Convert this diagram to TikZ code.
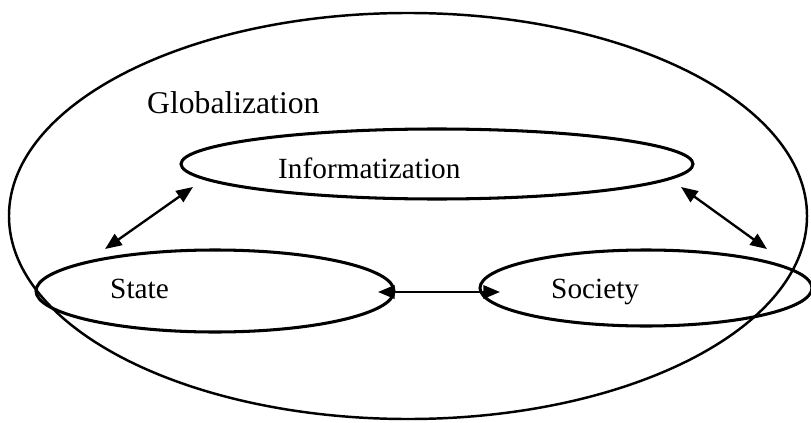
\documentclass[tikz,border=0pt]{standalone}
\usepackage{fontspec}
\setmainfont{Liberation Serif}
\usetikzlibrary{arrows.meta,shapes.geometric}

\begin{document}
\begin{tikzpicture}[x=0.03cm,y=-0.03cm,
  oval/.style={draw,ellipse,line width=2.6pt,inner sep=0,outer sep=0},
  word/.style={inner sep=0,anchor=base west,font=\fontsize{25}{30}\selectfont},
  link/.style={{Triangle[length=5mm,width=4mm]}-{Triangle[length=5mm,width=4mm]},line width=2pt}]
\fill[white] (0,0) rectangle (811,423);
\useasboundingbox (0,0) rectangle (811,423);
% the world round everything
\node[oval,line width=2.1pt,minimum width=23.94cm,minimum height=12.18cm] (glob) at (408,216) {};
\node[word,font=\fontsize{27}{32}\selectfont] (globtxt) at (147,113) {Globalization};
% the three actors
\node[oval,minimum width=15.36cm,minimum height=2.1cm] (info) at (437,164) {};
\node[oval,minimum width=10.74cm,minimum height=2.46cm] (state) at (215,291) {};
\node[oval,minimum width=9.96cm,minimum height=2.28cm] (society) at (646,288) {};
\node[word] (infotxt) at (278,178) {Informatization};
\node[word] (statetxt) at (110,298) {State};
\node[word] (societytxt) at (551,298) {Society};
% links
\draw[link] ([shift={(16.6,-13)}]state.north west) -- ([shift={(12,23)}]info.west);
\draw[link] ([shift={(-12,23)}]info.east) -- ([shift={(3.6,-12.1)}]society.north east);
\draw[link] ([shift={(-16,1)}]state.east) -- ([shift={(20,4)}]society.west);
\end{tikzpicture}
\end{document}
